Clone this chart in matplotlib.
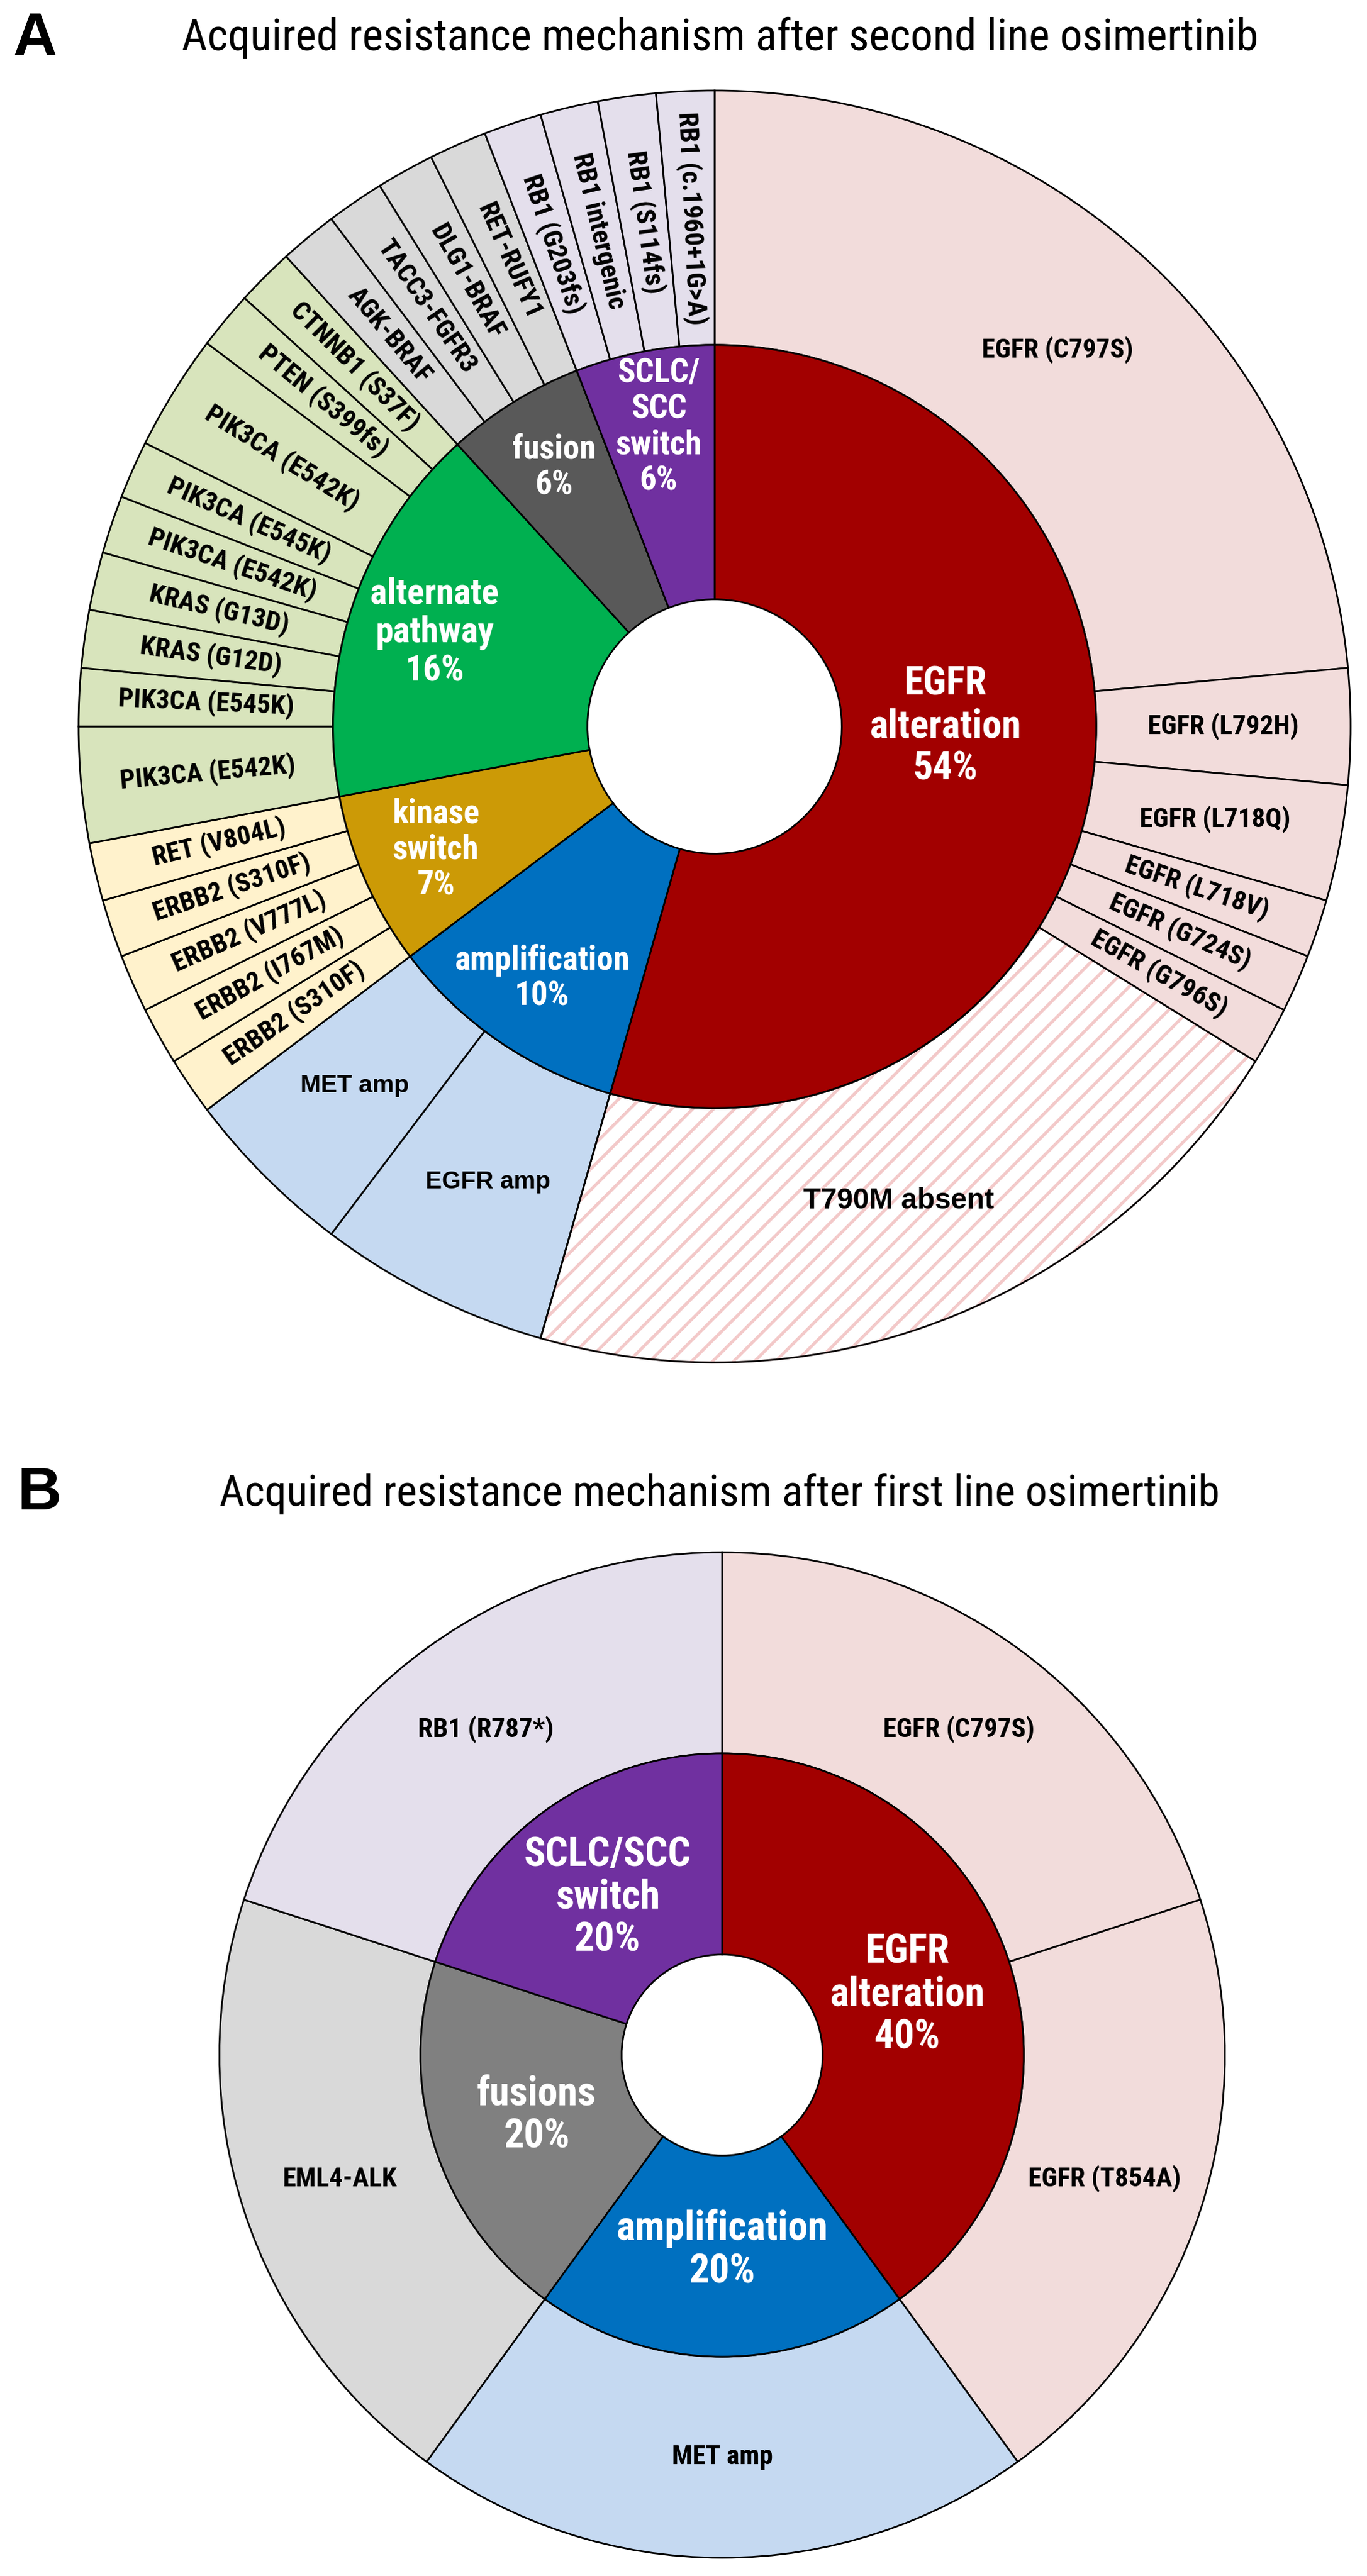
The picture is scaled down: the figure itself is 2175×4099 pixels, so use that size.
import numpy as np
import matplotlib.pyplot as plt
from matplotlib import font_manager
from matplotlib.patches import Wedge

#%% fonts - look for a narrow sans (the figure uses an Arial Narrow look)
fonts = font_manager.fontManager.ttflist
names = {f.name for f in fonts}
narrow_family, narrow_stretch = None, 'normal'
for n in ['Liberation Sans Narrow', 'Arial Narrow', 'Roboto Condensed', 'Noto Sans Condensed',
          'Open Sans Condensed', 'DejaVu Sans Condensed']:
    if n in names:
        narrow_family = n
        break
if narrow_family is None:
    for n in ['Roboto', 'Noto Sans', 'Open Sans', 'DejaVu Sans']:
        if any(f.name == n and 'condensed' in str(f.stretch) for f in fonts):
            narrow_family, narrow_stretch = n, 'condensed'
            break
have_narrow = narrow_family is not None
NARROW = [narrow_family, 'Liberation Sans', 'DejaVu Sans'] if have_narrow else ['Liberation Sans', 'DejaVu Sans']
WIDE = ['Liberation Sans', 'DejaVu Sans']
k = 1.0 if have_narrow else 0.87   # shrink when no narrow face

plt.rcParams['font.family'] = WIDE
plt.rcParams['hatch.linewidth'] = 3.5

#%% data - panel A (second line)
a_title = 'Acquired resistance mechanism after second line osimertinib'
a_inner_labels = ['EGFR\nalteration\n54%', 'amplification\n10%', 'kinase\nswitch\n7%',
                  'alternate\npathway\n16%', 'fusion\n6%', 'SCLC/\nSCC\nswitch\n6%']
a_inner_counts = [37, 7, 5, 11, 4, 4]
a_inner_colors = ['#A20000', '#0070C0', '#CC9A06', '#00B050', '#595959', '#7030A0']
a_light_colors = ['#F2DCDB', '#C5D9F1', '#FFF2CC', '#D8E4BC', '#D9D9D9', '#E4DFEC']

a_outer_labels = ['EGFR (C797S)', 'EGFR (L792H)', 'EGFR (L718Q)', 'EGFR (L718V)', 'EGFR (G724S)',
                  'EGFR (G796S)', 'T790M absent',
                  'EGFR amp', 'MET amp',
                  'ERBB2 (S310F)', 'ERBB2 (I767M)', 'ERBB2 (V777L)', 'ERBB2 (S310F)', 'RET (V804L)',
                  'PIK3CA (E542K)', 'PIK3CA (E545K)', 'KRAS (G12D)', 'KRAS (G13D)', 'PIK3CA (E542K)',
                  'PIK3CA (E545K)', 'PIK3CA (E542K)', 'PTEN (S399fs)', 'CTNNB1 (S37F)',
                  'AGK-BRAF', 'TACC3-FGFR3', 'DLG1-BRAF', 'RET-RUFY1',
                  'RB1 (G203fs)', 'RB1 intergenic', 'RB1 (S114fs)', 'RB1 (c.1960+1G>A)']
a_outer_counts = [16, 2, 2, 1, 1, 1, 14,
                  4, 3,
                  1, 1, 1, 1, 1,
                  2, 1, 1, 1, 1, 1, 2, 1, 1,
                  1, 1, 1, 1,
                  1, 1, 1, 1]
a_outer_group = [0]*7 + [1]*2 + [2]*5 + [3]*9 + [4]*4 + [5]*4

#%% data - panel B (first line)
b_title = 'Acquired resistance mechanism after first line osimertinib'
b_inner_labels = ['EGFR\nalteration\n40%', 'amplification\n20%', 'fusions\n20%', 'SCLC/SCC\nswitch\n20%']
b_inner_counts = [2, 1, 1, 1]
b_inner_colors = ['#A20000', '#0070C0', '#808080', '#7030A0']
b_outer_labels = ['EGFR (C797S)', 'EGFR (T854A)', 'MET amp', 'EML4-ALK', 'RB1 (R787*)']
b_outer_counts = [1, 1, 1, 1, 1]
b_outer_colors = ['#F2DCDB', '#F2DCDB', '#C5D9F1', '#D9D9D9', '#E4DFEC']

#%% figure in pixel units
W, H = 2175, 4099
fig = plt.figure(figsize=(W / 100, H / 100), dpi=100)
ax = fig.add_axes([0, 0, 1, 1])

LW = 2.0


def put_label(w, txt, r, size, color, rot=0, narrow=True, ang=None, weight='bold'):
    a = np.deg2rad((w.theta1 + w.theta2) / 2) if ang is None else np.deg2rad(ang)
    cx, cy = w.center
    kw = dict(family=NARROW, fontstretch=narrow_stretch) if narrow else dict(family=WIDE)
    ax.text(cx + r * np.cos(a), cy + r * np.sin(a), txt, ha='center', va='center',
            rotation=rot, rotation_mode='anchor', fontsize=size * (k if narrow else 1),
            color=color, fontweight=weight, linespacing=1.15, **kw)


def radial_rot(w):
    rot = ((w.theta1 + w.theta2) / 2 + 180) % 360 - 180
    if rot > 90:
        rot -= 180
    elif rot < -90:
        rot += 180
    return rot


def donut(cx, cy, R, inner_counts, inner_colors, outer_counts, outer_colors):
    ring = R * 0.4
    outer, _ = ax.pie(outer_counts, radius=R, center=(cx, cy), startangle=90,
                      counterclock=False, colors=outer_colors,
                      wedgeprops=dict(width=ring, edgecolor='black', linewidth=LW))
    inner, _ = ax.pie(inner_counts, radius=R - ring, center=(cx, cy), startangle=90,
                      counterclock=False, colors=inner_colors,
                      wedgeprops=dict(width=ring, edgecolor='black', linewidth=LW))
    return inner, outer


#%% panel A
cxA, cyA, RA = 1137, H - 1156, 1012
a_inner, a_outer = donut(cxA, cyA, RA, a_inner_counts, a_inner_colors,
                         a_outer_counts, [a_light_colors[g] for g in a_outer_group])

# T790M absent -> hatched
tw = a_outer[6]
tw.set_facecolor('white')
tw.set_edgecolor('#F3C9C9')
tw.set_hatch('/')
ax.add_patch(Wedge(tw.center, tw.r, tw.theta1, tw.theta2, width=tw.width,
                   fill=False, edgecolor='black', linewidth=LW))

for i, (w, lab) in enumerate(zip(a_inner, a_inner_labels)):
    if i == 0:
        put_label(w, lab, 367, 45, 'white', ang=0)
    elif i == 3:
        put_label(w, lab, 470, 41, 'white')
    else:
        put_label(w, lab, 485, 38, 'white')

rA_out = RA * 0.8
horiz = {0: 31, 1: 31, 2: 31, 6: 33, 7: 28, 8: 28}
for i, (w, lab) in enumerate(zip(a_outer, a_outer_labels)):
    if i in horiz:
        put_label(w, lab, rA_out, horiz[i], 'black', narrow=(i < 6))
    else:
        put_label(w, lab, rA_out, 31, 'black', rot=radial_rot(w))

ax.text(21, H - 63, 'A', fontsize=70, fontweight='bold', family=WIDE, ha='left', va='center')
ax.text(1145, H - 60, a_title, fontsize=51 * k, family=NARROW, fontstretch=narrow_stretch,
        ha='center', va='center')

#%% panel B
cxB, cyB, RB = 1149, H - 3270, 800
b_inner, b_outer = donut(cxB, cyB, RB, b_inner_counts, b_inner_colors,
                         b_outer_counts, b_outer_colors)

for w, lab in zip(b_inner, b_inner_labels):
    put_label(w, lab, 310, 46, 'white')
for w, lab in zip(b_outer, b_outer_labels):
    put_label(w, lab, RB * 0.8, 31, 'black')

ax.text(28, H - 2377, 'B', fontsize=70, fontweight='bold', family=WIDE, ha='left', va='center')
ax.text(1145, H - 2377, b_title, fontsize=50 * k, family=NARROW, fontstretch=narrow_stretch,
        ha='center', va='center')

ax.set_xlim(0, W)
ax.set_ylim(0, H)
ax.set_aspect('equal')
ax.axis('off')

fig.savefig('out.png', dpi=100, facecolor='white')
